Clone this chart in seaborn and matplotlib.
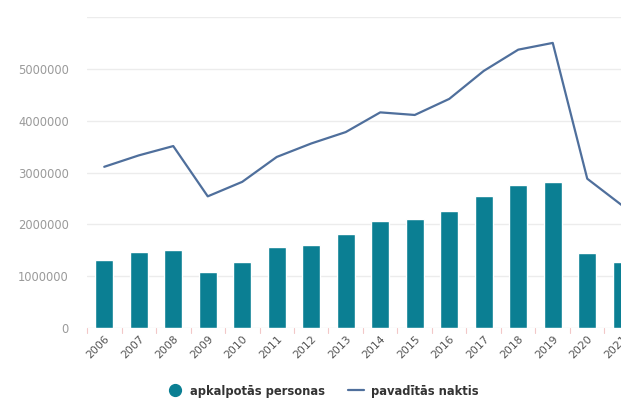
import matplotlib
matplotlib.use("Agg")
import matplotlib.pyplot as plt
from matplotlib.lines import Line2D
import seaborn as sns
import pandas as pd

years = ["2006", "2007", "2008", "2009", "2010", "2011", "2012", "2013",
         "2014", "2015", "2016", "2017", "2018", "2019", "2020", "2021"]
persons = [1310000, 1470000, 1510000, 1090000, 1280000, 1560000, 1610000, 1810000,
           2060000, 2100000, 2260000, 2540000, 2760000, 2820000, 1440000, 1280000]
nights = [3110000, 3330000, 3510000, 2540000, 2820000, 3300000, 3560000, 3780000,
          4160000, 4110000, 4420000, 4960000, 5370000, 5500000, 2880000, 2370000]
y_ticks = [0, 1000000, 2000000, 3000000, 4000000, 5000000, 6000000]
y_tick_labels = ["0", "1000000", "2000000", "3000000", "4000000", "5000000", ""]

bar_color = "#0b7f93"
line_color = "#4f6f9c"

df = pd.DataFrame({"year": years, "persons": persons, "nights": nights})

sns.set_theme(style="white")
plt.rcParams["font.family"] = ["DejaVu Sans"]

fig = plt.figure(figsize=(6.21, 4.0), dpi=100)
# plot area runs past the right edge of the canvas
ax = fig.add_axes([87 / 621, 72 / 400, 552 / 621, 311 / 400])

sns.barplot(data=df, x="year", y="persons", color=bar_color, width=0.53,
            saturation=1, ax=ax, zorder=2)
sns.lineplot(x=list(range(len(years))), y=nights, color=line_color,
             linewidth=1.6, ax=ax, zorder=3)

ax.set_xlim(-0.5, len(years) - 0.5)
ax.set_ylim(0, 6000000)
ax.set_yticks(y_ticks)
ax.set_yticklabels(y_tick_labels, fontsize=8.3, color="#9a9a9a")
ax.yaxis.grid(True, color="#ececec", linewidth=1)
ax.set_axisbelow(True)

ax.set_xticks(range(len(years)))
ax.set_xticklabels(years, rotation=45, ha="right", rotation_mode="anchor",
                   fontsize=7.8, color="#555555")
ax.tick_params(axis="x", length=0, pad=4)
ax.tick_params(axis="y", length=0, pad=13)
# small boundary ticks between categories
for b in range(len(years) + 1):
    ax.plot([b - 0.5, b - 0.5], [0, -90000], color="#f2c8c8", lw=0.8,
            clip_on=False, zorder=1)

for s in ax.spines.values():
    s.set_visible(False)
ax.set_xlabel("")
ax.set_ylabel("")

handles = [
    Line2D([], [], marker="o", linestyle="none", markersize=8.5,
           markerfacecolor=bar_color, markeredgecolor=bar_color),
    Line2D([], [], color=line_color, linewidth=1.6),
]
fig.legend(handles, ["apkalpotās personas", "pavadītās naktis"],
           loc="center", bbox_to_anchor=(323 / 621, 1 - 391 / 400), ncol=2,
           frameon=False, prop={"size": 8.3, "weight": "bold"},
           handlelength=1.4, columnspacing=2.0,
           handletextpad=0.6, labelcolor="#333333")

fig.savefig("out.png", dpi=100)
